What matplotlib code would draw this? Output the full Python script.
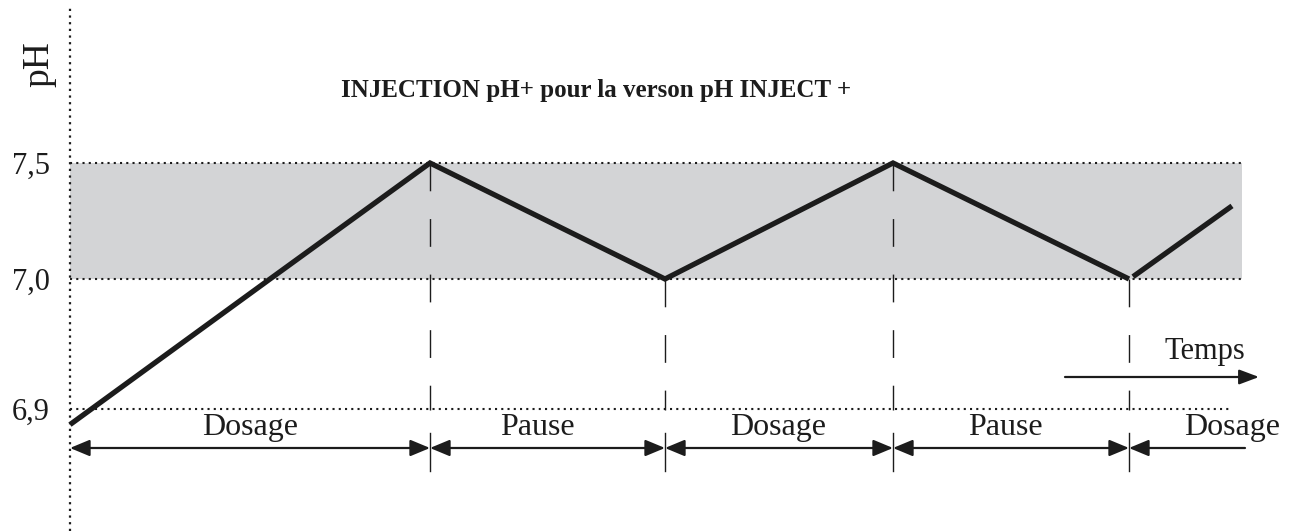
import numpy as np
import matplotlib
matplotlib.use('Agg')
import matplotlib.pyplot as plt
from matplotlib.patches import FancyArrowPatch

plt.rcParams['font.family'] = ['Liberation Serif', 'DejaVu Serif']

# ===================== données =====================
PH_TICKS = [6.9, 7.0, 7.5]
PH_LABELS = ['6,9', '7,0', '7,5']
PH_LOW, PH_HIGH = 7.0, 7.5

# courbe pH (temps en unités arbitraires)
T_CURVE = [0, 200, 360, 595, 823, 1059]
PH_CURVE = [6.888, 7.0, 7.5, 7.0, 7.5, 7.0]
T_TAIL = [1063, 1162]
PH_TAIL = [7.01, 7.315]

# phases
T_BOUNDS = [0, 360, 595, 823, 1059]
PHASES = ['Dosage', 'Pause', 'Dosage', 'Pause', 'Dosage']
PHASE_X = [180, 467, 708, 935, 1162]
T_END = 1175

TITLE = 'INJECTION pH+ pour la verson pH INJECT +'
INK = '#1c1c1c'
BAND = '#d3d4d6'
W, H = 1291, 531


# échelle pH non linéaire (schéma)
def fwd(v):
    v = np.asarray(v, dtype=float)
    return np.where(v < 7.0, 252 + (v - 7.0) * 1300, 252 + (v - 7.0) * 232)


def inv(u):
    u = np.asarray(u, dtype=float)
    return np.where(u < 252, 7.0 + (u - 252) / 1300, 7.0 + (u - 252) / 232)


def fy(ypx):
    # position verticale en fraction d'axes depuis un pixel (origine en haut)
    return (H - ypx) / H


fig = plt.figure(figsize=(W / 100, H / 100), dpi=100)
ax = fig.add_axes([0, 0, 1, 1])
ax.set_yscale('function', functions=(fwd, inv))
ax.set_xlim(-70, W - 70)
ax.set_ylim(float(inv(0)), float(inv(H)))
ax.axis('off')
xt = ax.get_xaxis_transform()

# zone de consigne
ax.fill_between([0, 1172], PH_LOW, PH_HIGH, color=BAND, lw=0, zorder=1)
dot = (0, (1, 2))
ax.plot([0, 1172], [PH_HIGH, PH_HIGH], color=INK, lw=1.5, ls=dot, zorder=2)
ax.plot([0, 1172], [PH_LOW, PH_LOW], color=INK, lw=1.5, ls=dot, zorder=2)
ax.plot([0, 1162], [PH_TICKS[0], PH_TICKS[0]], color=INK, lw=1.5, ls=dot, zorder=2)
ax.plot([0, 0], [0.0, fy(8)], color=INK, lw=1.6, ls=dot, transform=xt, zorder=2)

# étiquettes pH
for v, lab in zip(PH_TICKS, PH_LABELS):
    ax.text(-20, v, lab, ha='right', va='center_baseline', fontsize=22, color=INK)
ax.text(-31, fy(64), 'pH', rotation=90, ha='center', va='center', fontsize=27,
        color=INK, transform=xt)

# limites des phases
for i, t in enumerate(T_BOUNDS[1:]):
    top = PH_HIGH if i % 2 == 0 else PH_LOW
    ax.plot([t, t], [top, PH_TICKS[0] - 0.001], color=INK, lw=1.0,
            ls=(0, (20, 20)), zorder=2)
    ax.plot([t, t], [fy(433), fy(471)], color=INK, lw=1.0, transform=xt, zorder=2)

# courbe
ax.plot(T_CURVE, PH_CURVE, color=INK, lw=3.8, solid_joinstyle='miter',
        solid_capstyle='butt', zorder=3)
ax.plot(T_TAIL, PH_TAIL, color=INK, lw=3.8, solid_capstyle='butt', zorder=3)

# flèches des phases
ya = fy(448)
ends = T_BOUNDS + [T_END]
for i in range(len(PHASES)):
    style = '<|-|>' if i < len(PHASES) - 1 else '<|-'
    arr = FancyArrowPatch((ends[i], ya), (ends[i + 1], ya), transform=xt,
                          arrowstyle=style + ',head_length=12,head_width=5',
                          mutation_scale=1, shrinkA=0, shrinkB=0,
                          color=INK, lw=1.6, zorder=3)
    ax.add_patch(arr)
    ax.text(PHASE_X[i], fy(435), PHASES[i], ha='center', va='baseline',
            fontsize=23, color=INK, transform=xt)

# axe du temps
arr = FancyArrowPatch((995, fy(377)), (1189, fy(377)), transform=xt,
                      arrowstyle='-|>,head_length=12,head_width=4.5',
                      mutation_scale=1, shrinkA=0, shrinkB=0,
                      color=INK, lw=1.6, zorder=3)
ax.add_patch(arr)
ax.text(1135, fy(359), 'Temps', ha='center', va='baseline', fontsize=22,
        color=INK, transform=xt)

# titre
ax.text(526, fy(97), TITLE, ha='center', va='baseline', fontsize=18,
        fontweight='bold', color=INK, transform=xt)

fig.savefig('out.png', dpi=100)
